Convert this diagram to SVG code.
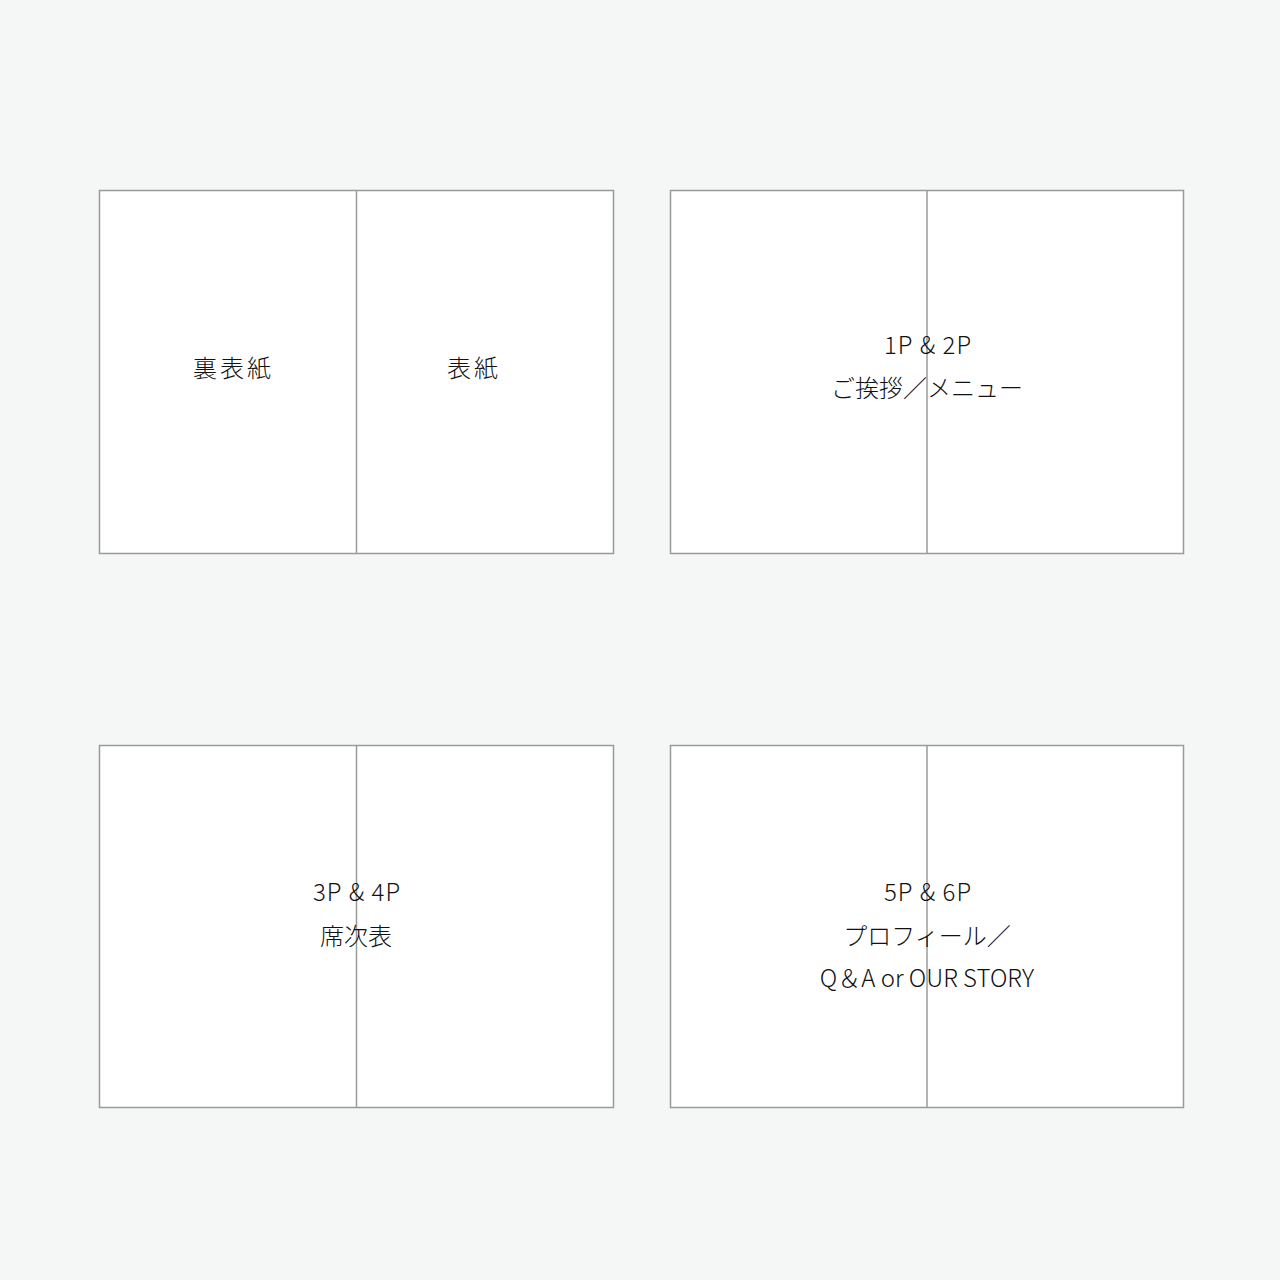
<svg xmlns="http://www.w3.org/2000/svg" width="1280" height="1280" viewBox="0 0 1280 1280">
<style>
.page{fill:#ffffff;stroke:#9a9a9a;stroke-width:1.5}
.fold{stroke:#9a9a9a;stroke-width:1.5}
.t{font-family:"Noto Sans CJK JP","Noto Sans",sans-serif;font-weight:300;font-size:24px;fill:#111111;text-anchor:middle}
</style>
<rect x="0" y="0" width="1280" height="1280" fill="#f5f7f6"/>
<g id="cover">
<rect class="page" x="99.5" y="190.5" width="514" height="363"/>
<line class="fold" x1="356.5" y1="190.5" x2="356.5" y2="553.5"/>
<text class="t" x="233.5" y="377" letter-spacing="3">裏表紙</text>
<text class="t" x="474" y="377" letter-spacing="3">表紙</text>
</g>
<g id="p1-2">
<rect class="page" x="670.5" y="190.5" width="513" height="363"/>
<line class="fold" x1="927" y1="190.5" x2="927" y2="553.5"/>
<text class="t" x="928" y="354" letter-spacing="1">1P &amp; 2P</text>
<text class="t" x="927" y="397">ご挨拶／メニュー</text>
</g>
<g id="p3-4">
<rect class="page" x="99.5" y="745.5" width="514" height="362"/>
<line class="fold" x1="356.5" y1="745.5" x2="356.5" y2="1107.5"/>
<text class="t" x="357" y="901" letter-spacing="1">3P &amp; 4P</text>
<text class="t" x="356" y="945">席次表</text>
</g>
<g id="p5-6">
<rect class="page" x="670.5" y="745.5" width="513" height="362"/>
<line class="fold" x1="927" y1="745.5" x2="927" y2="1107.5"/>
<text class="t" x="928" y="901" letter-spacing="1">5P &amp; 6P</text>
<text class="t" x="927" y="945">プロフィール／</text>
<text class="t" x="927" y="987">Q＆A or OUR STORY</text>
</g>
<g id="connectors"/>
</svg>
